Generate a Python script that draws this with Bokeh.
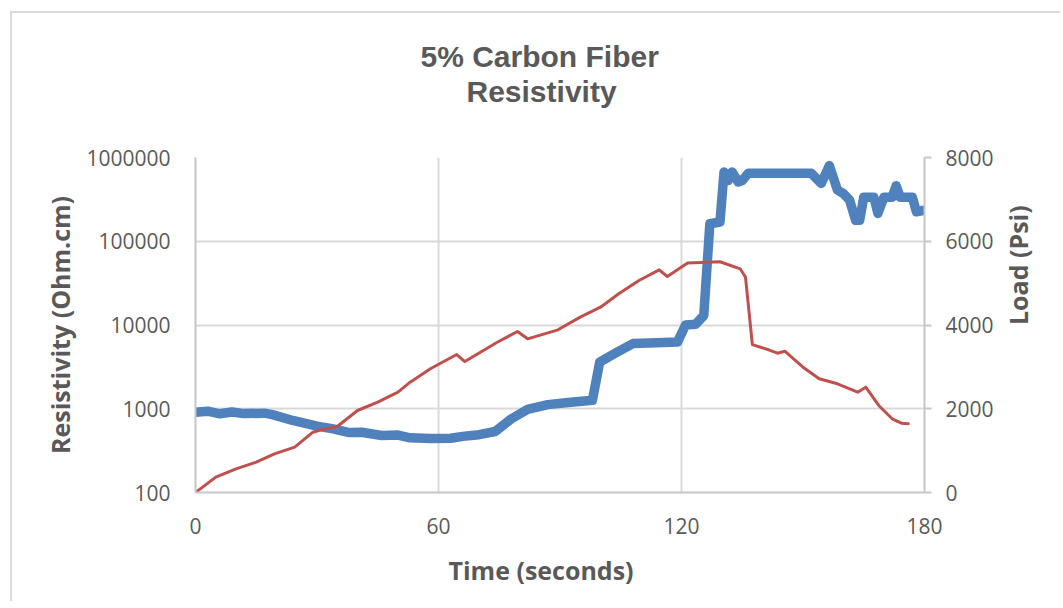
import math
from bokeh.plotting import figure
from bokeh.models import (Range1d, LinearAxis, LinearScale, FixedTicker,
                          NumeralTickFormatter, Title)
from bokeh.embed import file_html
from bokeh.resources import INLINE

# ---- data ----
time_res = [0, 3, 6, 9, 12, 17, 19, 24, 30, 34, 38, 41, 46, 50, 53, 58, 63, 66, 70, 74,
            78, 82, 87, 92, 98, 99.8, 104, 108, 112, 119, 121, 123.5, 125.5, 127, 129.5,
            130.5, 131.5, 132.5, 134, 135, 136.5, 152, 154.5, 156.5, 158.5, 160, 161.5,
            163, 164, 165, 167.5, 168.5, 170, 172, 173, 174, 177, 178, 180]
resistivity = [910, 935, 870, 915, 875, 885, 850, 725, 620, 575, 520, 525, 480, 485, 450,
               440, 445, 468, 490, 535, 760, 985, 1120, 1190, 1260, 3600, 4700, 6000, 6100,
               6250, 10000, 10200, 13000, 162000, 170000, 670000, 530000, 670000, 510000,
               530000, 650000, 650000, 490000, 800000, 410000, 370000, 310000, 178000,
               178000, 336000, 336000, 215000, 336000, 336000, 460000, 336000, 336000,
               225000, 235000]

time_load = [0, 5, 10, 15, 19.5, 24.5, 29, 31, 35, 40, 45, 50, 53, 58, 64.5, 66.5, 74.5,
             79.5, 82, 89.5, 95, 100, 104.5, 109.5, 114.5, 116.5, 121.5, 129.5, 134.5,
             135.8, 137.5, 141.5, 143.7, 145.5, 150, 154, 158.5, 163.5, 165.5, 168.7, 172,
             174.3, 176]
load = [0, 366, 565, 724, 923, 1082, 1440, 1497, 1576, 1958, 2157, 2395, 2634, 2954, 3295,
        3128, 3589, 3845, 3670, 3885, 4187, 4425, 4745, 5063, 5318, 5158, 5480, 5510, 5342,
        5142, 3530, 3408, 3327, 3374, 2992, 2715, 2596, 2395, 2515, 2078, 1760, 1655, 1640]

x_ticks = [0, 60, 120, 180]
res_ticks = [100, 1000, 10000, 100000, 1000000]
load_ticks = [0, 2000, 4000, 6000, 8000]

title_line1 = "5% Carbon Fiber"
title_line2 = "Resistivity"
x_title = "Time (seconds)"
y_title = "Resistivity (Ohm.cm)"
y2_title = "Load (Psi)"

# ---- styling ----
TXT = "#595959"
AX = "#c6c6c6"
GRID = "#d9d9d9"
FONT = "Open Sans"
TFONT = "Liberation Sans"

p = figure(width=1050, height=590, y_axis_type="log", title=None,
           x_range=Range1d(0, 180), y_range=Range1d(100, 1000000),
           output_backend="svg", toolbar_location=None,
           min_border_left=183, min_border_right=138,
           min_border_top=144, min_border_bottom=111,
           styles={"margin-left": "10px", "margin-top": "11px",
                   "border-top": "2px solid #d9d9d9",
                   "border-left": "2px solid #d9d9d9"})
p.outline_line_color = None
p.background_fill_color = "white"
p.border_fill_color = "white"

# spacer between frame and title block (blank text), then the two title lines
p.add_layout(Title(text=" ", standoff=0, text_font=TFONT, text_font_size="43.5px"), "above")
p.add_layout(Title(text=title_line2, align="left", offset=271, standoff=0,
                   text_font=TFONT, text_font_size="30px", text_font_style="bold",
                   text_color=TXT), "above")
p.add_layout(Title(text=title_line1, align="left", offset=225, standoff=0,
                   text_font=TFONT, text_font_size="30px", text_font_style="bold",
                   text_color=TXT), "above")

p.extra_y_ranges = {"load": Range1d(0, 8000)}
p.extra_y_scales = {"load": LinearScale()}
right = LinearAxis(y_range_name="load", ticker=FixedTicker(ticks=load_ticks))
p.add_layout(right, "right")

p.xaxis.ticker = FixedTicker(ticks=x_ticks)
p.yaxis[0].ticker = FixedTicker(ticks=res_ticks)
p.yaxis[0].formatter = NumeralTickFormatter(format="0")

for ax in [p.xaxis[0], p.yaxis[0], right]:
    ax.axis_line_color = AX
    ax.axis_line_width = 2
    ax.major_tick_line_color = AX
    ax.major_tick_line_width = 2
    ax.minor_tick_line_color = None
    ax.major_tick_in = 0
    ax.major_tick_out = 0
    ax.major_label_text_font = FONT
    ax.major_label_text_font_size = "21px"
    ax.major_label_text_color = TXT
    ax.axis_label_text_font = FONT
    ax.axis_label_text_font_size = "25px"
    ax.axis_label_text_font_style = "bold"
    ax.axis_label_text_color = TXT

right.major_tick_out = 7
right.major_label_standoff = 14
right.axis_label = y2_title
right.axis_label_orientation = math.pi / 2
right.axis_label_standoff = 21
p.yaxis[0].major_label_standoff = 25
p.yaxis[0].axis_label = y_title
p.yaxis[0].axis_label_standoff = 6
p.xaxis[0].major_label_standoff = 25

p.add_layout(Title(text=x_title, align="left", offset=253, standoff=29,
                   text_font=FONT, text_font_size="25px", text_font_style="bold",
                   text_color=TXT), "below")

p.xgrid.ticker = FixedTicker(ticks=[60, 120])
p.xgrid.grid_line_color = GRID
p.xgrid.grid_line_width = 2
p.ygrid.ticker = FixedTicker(ticks=res_ticks[1:])
p.ygrid.grid_line_color = GRID
p.ygrid.grid_line_width = 2

p.line(time_res, resistivity, line_width=9.5, color="#4f81bd",
       line_join="round", line_cap="round")
p.line(time_load, load, y_range_name="load", line_width=3, color="#c0504d",
       line_join="round", line_cap="round")

open("out.html", "w").write(file_html(p, INLINE))
